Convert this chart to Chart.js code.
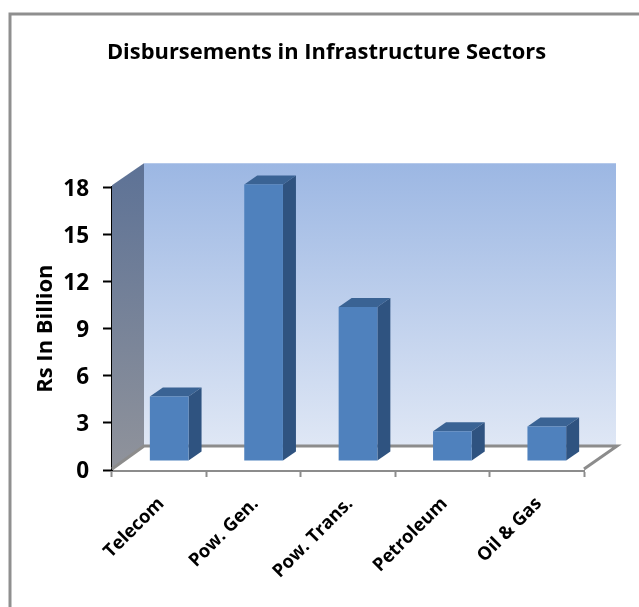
<!DOCTYPE html>
<html><head><meta charset="utf-8">
<style>html,body{margin:0;padding:0;background:#fff;overflow:hidden}canvas{display:block}</style>
<script src="https://cdn.jsdelivr.net/npm/chart.js@4"></script>
</head><body><div style="width:639px;height:607px;position:relative"><canvas id="c"></canvas></div>
<script>
const categories = ["Telecom","Pow. Gen.","Pow. Trans.","Petroleum","Oil & Gas"];
const disbursements = [4.1,17.6,9.8,1.9,2.2];
const yTicks = [0,3,6,9,12,15,18];
const chartTitle = "Disbursements in Infrastructure Sectors";
const yTitle = "Rs In Billion";
const FONT = "'Open Sans', sans-serif";
const roomDepth = {x:32,y:-24}, barShift = {x:10,y:-9}, barDepth = {x:13,y:-9};

function poly(ctx,pts,fill){ctx.beginPath();pts.forEach((p,i)=>i?ctx.lineTo(p[0],p[1]):ctx.moveTo(p[0],p[1]));ctx.closePath();ctx.fillStyle=fill;ctx.fill();}
function nudge(scale,dx,dy){const items=scale.getLabelItems();if(items._nudged)return;items._nudged=true;items.forEach(i=>{i.options.translation[0]+=dx;i.options.translation[1]+=dy;});}

const frame = {id:'frame',
  afterLayout(ch){ch.titleBlock.left=69;ch.titleBlock.right=584;},
  beforeDraw(ch){const c=ch.ctx;c.save();c.fillStyle='#fff';c.fillRect(0,0,639,607);
    c.strokeStyle='#8f8f8f';c.lineWidth=3;c.beginPath();c.moveTo(10,607);c.lineTo(10,14);c.lineTo(639,14);c.stroke();c.restore();
    nudge(ch.scales.y,0,2);nudge(ch.scales.x,2,3);},
  beforeDatasetsDraw(ch){
    const c=ch.ctx,a=ch.chartArea,d=roomDepth,L=a.left,R=a.right,T=a.top,B=a.bottom;
    c.save();
    let g=c.createLinearGradient(0,T+d.y,0,B+d.y);g.addColorStop(0,'#9cb7e3');g.addColorStop(1,'#dfe7f5');
    poly(c,[[L+d.x,T+d.y],[R+d.x,T+d.y],[R+d.x,B+d.y],[L+d.x,B+d.y]],g);
    g=c.createLinearGradient(0,T+d.y,0,B);g.addColorStop(0,'#5d7296');g.addColorStop(1,'#90939b');
    poly(c,[[L,T-2],[L+d.x,T+d.y],[L+d.x,B+d.y],[L,B]],g);
    poly(c,[[L,B],[R,B],[R+d.x,B+d.y],[L+d.x,B+d.y]],'#ffffff');
    c.strokeStyle='#8c8c8c';c.lineWidth=3;c.beginPath();
    c.moveTo(L,B-1);c.lineTo(L+d.x,B+d.y);c.lineTo(R+d.x+1,B+d.y);c.lineTo(R,B-1);c.stroke();
    ch.getDatasetMeta(0).data.forEach(el=>{
      const l=el.x-el.width/2+barShift.x,r=l+el.width,t=el.y+barShift.y,b=el.base+barShift.y,q=barDepth;
      poly(c,[[l,t],[r,t],[r+q.x,t+q.y],[l+q.x,t+q.y]],'#3a6394');
      poly(c,[[r,t],[r+q.x,t+q.y],[r+q.x,b+q.y],[r,b]],'#2f5380');
    });
    c.restore();
    c.save();c.translate(barShift.x,barShift.y);
  },
  afterDatasetsDraw(ch){ch.ctx.restore();}
};

new Chart(document.getElementById('c'),{
  type:'bar',
  data:{labels:categories,datasets:[{data:disbursements,backgroundColor:'#4f81bd',borderWidth:0,barPercentage:0.41,categoryPercentage:1,clip:false}]},
  plugins:[frame],
  options:{responsive:true,maintainAspectRatio:false,animation:false,
    layout:{padding:{left:0,right:55,top:0,bottom:0}},
    plugins:{legend:{display:false},tooltip:{enabled:false},
      title:{display:true,text:chartTitle,color:'#000',font:{family:FONT,size:21.9,weight:'bold'},padding:{top:40,bottom:121}}},
    scales:{
      x:{grid:{drawOnChartArea:false,drawTicks:true,tickLength:7,tickColor:'#8c8c8c',tickWidth:2,offset:true},
         border:{color:'#8c8c8c',width:3},
         ticks:{color:'#000',font:{family:FONT,size:18.3,weight:'bold'},minRotation:45,maxRotation:45,autoSkip:false,padding:13},
         afterFit(s){s.height=137;}},
      y:{min:0,max:18,afterBuildTicks(s){s.ticks=yTicks.map(v=>({value:v}));},
         grid:{drawOnChartArea:false,tickLength:9,tickColor:'#000',tickWidth:2},
         border:{color:'#000',width:2},
         ticks:{color:'#000',font:{family:FONT,size:22.5,weight:'bold'},padding:14},
         title:{display:true,text:yTitle,color:'#000',font:{family:FONT,size:22,weight:'bold'},padding:{top:33,bottom:0}},
         afterFit(s){s.width=112;}}
    }
  }
});
</script></body></html>
